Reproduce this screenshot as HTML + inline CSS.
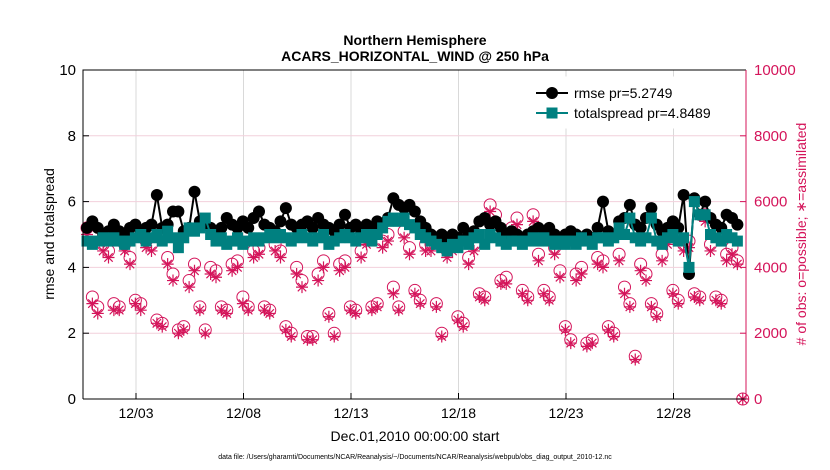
<!DOCTYPE html>
<html><head><meta charset="utf-8"><style>
body{margin:0;background:#fff}
svg{display:block;font-family:"Liberation Sans",sans-serif}
</style></head><body>
<svg id="chart" width="830" height="470" viewBox="0 0 830 470" xmlns="http://www.w3.org/2000/svg">
<text x="415" y="45" text-anchor="middle" font-weight="bold" font-size="14">Northern Hemisphere</text>
<text x="415" y="61" text-anchor="middle" font-weight="bold" font-size="14">ACARS_HORIZONTAL_WIND @ 250 hPa</text>
<g id="grid"></g>
<g id="series"></g>
<g id="axes"></g>
<text transform="translate(54,234) rotate(-90)" text-anchor="middle" font-size="14">rmse and totalspread</text>
<text transform="translate(806,234) rotate(-90)" text-anchor="middle" font-size="14" fill="#d4145a"># of obs: o=possible; ∗=assimilated</text>
<text x="415" y="441" text-anchor="middle" font-size="14">Dec.01,2010 00:00:00 start</text>
<text x="415" y="459" text-anchor="middle" font-size="7">data file: /Users/gharamti/Documents/NCAR/Reanalysis/~/Documents/NCAR/Reanalysis/webpub/obs_diag_output_2010-12.nc</text>
<g>
<rect x="530" y="77" width="213" height="51" fill="#fff" stroke="#fff"/>
<line x1="536" y1="93" x2="568" y2="93" stroke="#000" stroke-width="2"/>
<circle cx="552" cy="93" r="6" fill="#000"/>
<text x="574" y="98" font-size="14">rmse pr=5.2749</text>
<line x1="536" y1="113" x2="568" y2="113" stroke="#008080" stroke-width="2"/>
<rect x="546.5" y="107.5" width="11" height="11" fill="#008080"/>
<text x="574" y="118" font-size="14">totalspread pr=4.8489</text>
</g>
</svg>
<script>
const xTickLabels=["12/03","12/08","12/13","12/18","12/23","12/28"];
const xTickDays=[2,7,12,17,22,27];
const yLeftTicks=[0,2,4,6,8,10];
const yRightTicks=[0,2000,4000,6000,8000,10000];
const rmse=[5.2,5.4,5.2,5.0,5.1,5.3,5.1,5.0,5.2,5.3,5.1,5.2,
5.3,6.2,5.2,5.3,5.7,5.7,5.1,5.2,6.3,5.4,5.3,5.2,
5.1,5.2,5.5,5.3,5.2,5.4,5.2,5.5,5.7,5.3,5.2,5.1,
5.4,5.8,5.3,5.2,5.3,5.4,5.2,5.5,5.3,5.2,5.1,5.3,
5.6,5.2,5.3,5.1,5.3,5.2,5.4,5.3,5.5,6.1,5.9,5.8,
5.9,5.7,5.4,5.2,5.0,4.9,5.0,4.8,5.0,4.9,5.2,5.0,
5.1,5.4,5.5,5.3,5.4,5.2,5.0,5.1,5.0,4.9,5.0,5.1,
5.2,5.1,5.2,5.0,4.9,5.0,5.1,5.0,4.9,5.0,4.9,5.2,
6.0,5.1,5.0,5.4,5.5,5.9,5.3,5.2,5.5,5.8,5.3,5.1,
5.2,5.4,5.2,6.2,3.8,6.1,5.6,6.0,5.5,5.3,5.2,5.6,5.5,5.3];
const spread=[4.8,4.7,4.8,4.9,4.8,4.9,4.8,4.7,4.8,4.9,5.0,4.8,
4.9,5.0,4.8,5.1,4.9,4.6,4.9,5.2,5.1,5.2,5.5,5.0,
4.8,4.9,4.7,4.8,4.9,4.7,4.8,4.9,4.8,4.9,5.0,4.9,
5.0,4.9,4.8,4.9,5.0,4.9,4.8,4.9,5.0,4.7,4.8,4.9,
5.0,4.9,4.8,4.9,5.0,4.8,5.0,5.2,5.4,5.5,5.4,5.5,
5.3,5.2,5.0,4.9,4.8,4.7,4.6,4.5,4.7,4.6,4.8,4.7,
4.9,5.0,4.7,5.0,4.9,4.8,4.7,4.8,4.8,4.7,4.8,4.9,
4.8,4.9,4.8,4.7,4.8,4.7,4.8,4.7,4.9,4.8,4.7,4.9,
4.9,4.8,4.9,5.2,5.0,5.5,4.9,4.8,4.9,5.5,4.8,4.7,
4.9,5.0,4.8,4.9,4.0,6.0,5.6,5.6,5.0,4.9,4.8,5.0,4.9,4.8];
const obsPossible=[5200,3100,2800,4700,4500,2900,2800,4700,4300,3000,2900,4800,
4700,2400,2300,4300,3800,2100,2200,3600,4100,2800,2100,4000,
3900,2800,2700,4100,4200,3100,2800,4500,4600,2800,2700,4700,
4500,2200,2000,4000,3600,1900,1900,3800,4200,2600,2000,4100,
4200,2800,2700,4500,4900,2800,2900,4800,5000,3400,2800,5100,
4600,3300,3000,4700,4700,2900,2000,4500,4700,2500,2300,4300,
4700,3200,3100,5900,5600,3600,3700,5200,5500,3300,3100,5600,
4400,3300,3100,4600,3900,2200,1800,3800,4000,1700,1800,4300,
4200,2200,2000,4400,3400,2900,1300,4100,3800,2900,2600,4400,
4900,3300,3000,4700,4800,3200,3100,5600,4700,3100,3000,4400,4600,4200,0];
const obsAssim=[5000,2900,2600,4500,4300,2700,2700,4500,4100,2900,2700,4600,
4500,2300,2200,4100,3600,2000,2100,3400,3900,2700,2000,3800,
3700,2700,2600,3900,4000,2900,2700,4300,4400,2700,2600,4500,
4300,2100,1900,3800,3400,1800,1800,3600,4000,2500,1900,3900,
4000,2700,2600,4300,4700,2700,2800,4600,4800,3200,2700,4900,
4400,3200,2900,4500,4500,2800,1900,4300,4500,2400,2200,4100,
4500,3100,3000,5700,5400,3500,3500,5000,5300,3200,3000,5400,
4200,3200,3000,4400,3700,2100,1700,3600,3800,1600,1700,4100,
4000,2100,1900,4200,3200,2800,1200,3900,3600,2800,2500,4200,
4700,3200,2900,4500,4600,3100,3000,5400,4500,3000,2900,4200,4400,4100,0];

const NS="http://www.w3.org/2000/svg";
const L=83,R=746,T=70,B=399;
const day0X=93,pxPerDay=21.5;
const xIdx=i=>87+i*(pxPerDay/4);
const xDay=d=>day0X+d*pxPerDay;
const yL=v=>B-(v/10)*(B-T);
const yR=v=>B-(v/10000)*(B-T);
function mk(tag,attrs,parent){const e=document.createElementNS(NS,tag);for(const k in attrs)e.setAttribute(k,attrs[k]);parent.appendChild(e);return e;}
const grid=document.getElementById('grid'),axes=document.getElementById('axes'),ser=document.getElementById('series');
const CR="#d4145a";
xTickDays.forEach((d,i)=>{
 const g=mk('line',{x1:xDay(d),x2:xDay(d),y1:T,y2:B,stroke:'#d9d9d9','stroke-width':1},grid);
 
 
 mk('line',{x1:xDay(d),x2:xDay(d),y1:B,y2:B-6,stroke:'#000'},axes);
 const t=mk('text',{x:xDay(d),y:418,'text-anchor':'middle','font-size':14},axes);t.textContent=xTickLabels[i];
 
 
});
yLeftTicks.forEach(v=>{
 if(v>0&&v<10){const g=mk('line',{x1:L,x2:R,y1:yL(v),y2:yL(v),stroke:'#f2d0dc','stroke-width':1},grid);
 
 }
 mk('line',{x1:L,x2:L+6,y1:yL(v),y2:yL(v),stroke:'#000'},axes);
 const t=mk('text',{x:76,y:yL(v)+5,'text-anchor':'end','font-size':15},axes);t.textContent=v;
 
 
});
yRightTicks.forEach(v=>{
 mk('line',{x1:R,x2:R-6,y1:yR(v),y2:yR(v),stroke:CR},axes);
 const t=mk('text',{x:754,y:yR(v)+5,'font-size':15,fill:CR},axes);t.textContent=v;
 
 
});
mk('polyline',{points:`${L},${B} ${L},${T} ${R},${T}`,fill:'none',stroke:'#000','stroke-width':1},axes);
mk('line',{x1:L,x2:R,y1:B,y2:B,stroke:'#000','stroke-width':1},axes);
mk('line',{x1:R,x2:R,y1:T,y2:B,stroke:CR,'stroke-width':1},axes);
// obs
obsPossible.forEach((v,i)=>{
 const c=mk('circle',{cx:xIdx(i),cy:yR(v),r:6,fill:'none',stroke:CR,'stroke-width':1},ser);
 
 
});
obsAssim.forEach((v,i)=>{
 const x=xIdx(i),y=yR(v),s=6,d=4.2;
 const p=mk('path',{d:`M${x-s},${y}H${x+s}M${x},${y-s}V${y+s}M${x-d},${y-d}L${x+d},${y+d}M${x-d},${y+d}L${x+d},${y-d}`,stroke:CR,'stroke-width':1.2},ser);
 
 
});
const rl=mk('polyline',{points:rmse.map((v,i)=>xIdx(i)+','+yL(v)).join(' '),fill:'none',stroke:'#000','stroke-width':2},ser);


rmse.forEach((v,i)=>{
 const c=mk('circle',{cx:xIdx(i),cy:yL(v),r:6,fill:'#000'},ser);
 
 
});
const sl=mk('polyline',{points:spread.map((v,i)=>xIdx(i)+','+yL(v)).join(' '),fill:'none',stroke:'#008080','stroke-width':2},ser);


spread.forEach((v,i)=>{
 const r=mk('rect',{x:xIdx(i)-5.5,y:yL(v)-5.5,width:11,height:11,fill:'#008080'},ser);
 
 
});
</script>
</body></html>
